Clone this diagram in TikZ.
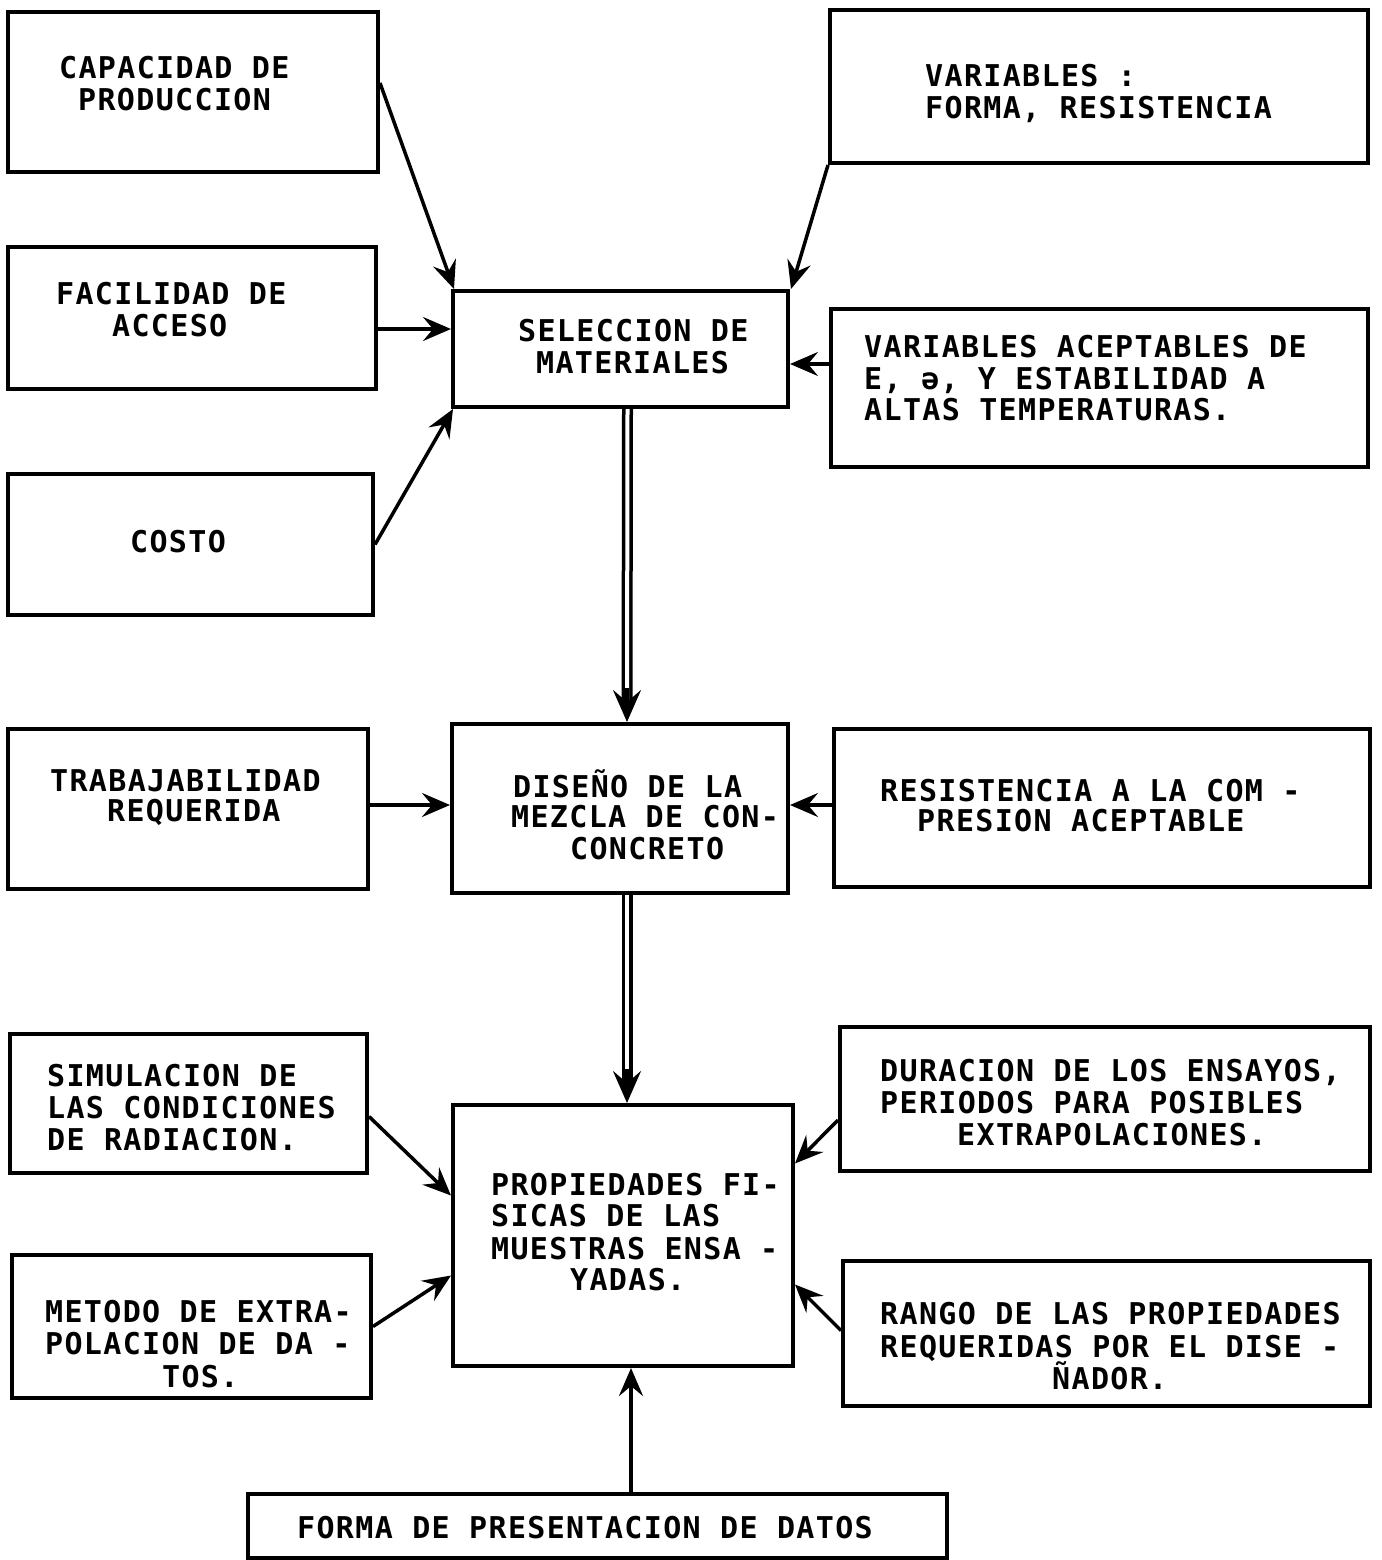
\documentclass[tikz,border=0pt]{standalone}
\usepackage{fontspec}
\newfontfamily\mono[LetterSpace=4.5]{DejaVu Sans Mono}
\usetikzlibrary{arrows.meta}
\begin{document}
\begin{tikzpicture}[x=1pt,y=-1pt,
  box/.style={draw,line width=4pt,rectangle,inner sep=0pt},
  txt/.style={inner sep=0pt,anchor=base west,font=\mono\bfseries\fontsize{30}{32}\selectfont},
  arr/.style={line width=3.5pt,-{Stealth[length=28pt,width=24pt,inset=10pt]}},
  dbl/.style={line width=3.5pt,double,double distance=4pt,shorten >=20pt},
  dtip/.style={line width=3.5pt,-{Stealth[length=32pt,width=28pt,inset=12pt]}}]
\useasboundingbox (0,0) rectangle (1381,1560);
% boxes
\node[box,minimum width=370pt,minimum height=160pt] (cap) at (193,92) {};
\node[box,minimum width=368pt,minimum height=142pt] (fac) at (192,318) {};
\node[box,minimum width=365pt,minimum height=141pt] (cos) at (190.5,544.5) {};
\node[box,minimum width=335pt,minimum height=116pt] (sel) at (620.5,349) {};
\node[box,minimum width=538pt,minimum height=153pt] (var) at (1099,86.5) {};
\node[box,minimum width=537pt,minimum height=158pt] (vac) at (1099.5,388) {};
\node[box,minimum width=360pt,minimum height=160pt] (tra) at (188,809) {};
\node[box,minimum width=336pt,minimum height=169pt] (dis) at (620,808.5) {};
\node[box,minimum width=536pt,minimum height=158pt] (res) at (1102,808) {};
\node[box,minimum width=357pt,minimum height=139pt] (sim) at (188.5,1103.5) {};
\node[box,minimum width=530pt,minimum height=144pt] (dur) at (1105,1099) {};
\node[box,minimum width=340pt,minimum height=261pt] (pro) at (623,1235.5) {};
\node[box,minimum width=359pt,minimum height=143pt] (met) at (191.5,1326.5) {};
\node[box,minimum width=527pt,minimum height=145pt] (ran) at (1106.5,1333.5) {};
\node[box,minimum width=699pt,minimum height=64pt] (for) at (597.5,1526) {};
% texts
\node[txt] (t1a) at (59,79) {CAPACIDAD DE};
\node[txt] (t1b) at (78,111) {PRODUCCION};
\node[txt] (t2a) at (56,304) {FACILIDAD DE};
\node[txt] (t2b) at (112,336) {ACCESO};
\node[txt] (t3a) at (130,552) {COSTO};
\node[txt] (t4a) at (518,341) {SELECCION DE};
\node[txt] (t4b) at (536,373) {MATERIALES};
\node[txt] (t5a) at (925,87) {VARIABLES :};
\node[txt] (t5b) at (925,119) {FORMA, RESISTENCIA};
\node[txt] (t6a) at (864,357) {VARIABLES ACEPTABLES DE};
\node[txt] (t6b) at (864,389) {E, ə, Y ESTABILIDAD A};
\node[txt] (t6c) at (864,420) {ALTAS TEMPERATURAS.};
\node[txt] (t7a) at (50,791) {TRABAJABILIDAD};
\node[txt] (t7b) at (107,821) {REQUERIDA};
\node[txt] (t8a) at (513,797) {DISEÑO DE LA};
\node[txt] (t8b) at (511,827) {MEZCLA DE CON-};
\node[txt] (t8c) at (570,859) {CONCRETO};
\node[txt] (t9a) at (880,801) {RESISTENCIA A LA COM -};
\node[txt] (t9b) at (917,831) {PRESION ACEPTABLE};
\node[txt] (t10a) at (47,1086) {SIMULACION DE};
\node[txt] (t10b) at (47,1118) {LAS CONDICIONES};
\node[txt] (t10c) at (47,1150) {DE RADIACION.};
\node[txt] (t11a) at (880,1081) {DURACION DE LOS ENSAYOS,};
\node[txt] (t11b) at (880,1113) {PERIODOS PARA POSIBLES};
\node[txt] (t11c) at (957,1145) {EXTRAPOLACIONES.};
\node[txt] (t12a) at (491,1195) {PROPIEDADES FI-};
\node[txt] (t12b) at (491,1226) {SICAS DE LAS};
\node[txt] (t12c) at (491,1259) {MUESTRAS ENSA -};
\node[txt] (t12d) at (570,1290) {YADAS.};
\node[txt] (t13a) at (45,1322) {METODO DE EXTRA-};
\node[txt] (t13b) at (45,1354) {POLACION DE DA -};
\node[txt] (t13c) at (162,1387) {TOS.};
\node[txt] (t14a) at (880,1324) {RANGO DE LAS PROPIEDADES};
\node[txt] (t14b) at (880,1357) {REQUERIDAS POR EL DISE -};
\node[txt] (t14c) at (1052,1389) {ÑADOR.};
\node[txt] (t15a) at (297,1538) {FORMA DE PRESENTACION DE DATOS};
% connectors
\draw[arr] ([yshift=9pt]cap.east) -- ([xshift=3pt]sel.north west);
\draw[arr] ([yshift=-11pt]fac.east) -- ([yshift=20pt]sel.west);
\draw[arr] (cos.east) -- ([xshift=2pt]sel.south west);
\draw[arr] (var.south west) -- ([xshift=1pt]sel.north east);
\draw[arr] ([yshift=24pt]vac.west) -- ([yshift=-15pt]sel.east);
\draw[dbl] ([xshift=7pt]sel.south) -- ([xshift=7pt]dis.north);
\draw[dtip] ([xshift=7pt,yshift=34pt]dis.north) -- ([xshift=7pt]dis.north);
\draw[arr] ([yshift=4pt]tra.east) -- ([yshift=3.5pt]dis.west);
\draw[arr] ([yshift=3pt]res.west) -- ([yshift=3.5pt]dis.east);
\draw[dbl] ([xshift=7pt]dis.south) -- ([xshift=4pt]pro.north);
\draw[dtip] ([xshift=4pt,yshift=34pt]pro.north) -- ([xshift=4pt]pro.north);
\draw[arr] ([yshift=-13pt]sim.east) -- ([yshift=40pt]pro.west);
\draw[arr] (met.east) -- ([yshift=-40pt]pro.west);
\draw[arr] ([yshift=-21pt]dur.west) -- ([yshift=72pt]pro.east);
\draw[arr] ([yshift=3pt]ran.west) -- ([yshift=-49pt]pro.east);
\draw[arr] ([xshift=33.5pt]for.north) -- ([xshift=8pt]pro.south);
\end{tikzpicture}
\end{document}
